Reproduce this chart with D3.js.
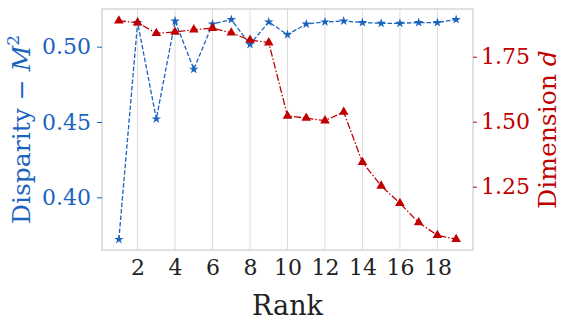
<!DOCTYPE html>
<html>
  <head>
    <meta charset="utf-8">
    <title>Disparity and dimension by rank</title>
    <script src="https://d3js.org/d3.v7.min.js"></script>
    <style>
      body { margin: 0; background: #fff; }
      .grid line { stroke: #dcdcdc; stroke-width: 1; }
    </style>
  </head>
  <body>
    <div id="chart"></div>
    <script>

      // values
      var ranks = d3.range(1, 20);
      var disparity = [0.372, 0.516, 0.452, 0.517, 0.485, 0.515, 0.518, 0.5015, 0.5164, 0.508,
                       0.515, 0.5164, 0.517, 0.516, 0.5155, 0.5155, 0.516, 0.516, 0.518];
      var dimension = [1.888, 1.881, 1.840, 1.845, 1.854, 1.860, 1.842, 1.814, 1.804, 1.522,
                       1.514, 1.504, 1.537, 1.344, 1.253, 1.186, 1.112, 1.063, 1.048];
      var xTicks = [2, 4, 6, 8, 10, 12, 14, 16, 18];
      var leftTicks = [0.40, 0.45, 0.50];
      var rightTicks = [1.25, 1.50, 1.75];

      var width = 575,
        height = 332,
        margin = {top: 9, right: 102, bottom: 82, left: 102},
        serif = "\"DejaVu Serif\"",
        blue = "#1a64bf",
        red = "#c00000";

      var svg = d3.select("#chart")
        .append("svg")
          .attr("width", width)
          .attr("height", height)
          .attr("font-family", serif);

      var x = d3.scaleLinear()
        .domain([0.1, 19.9])
        .range([margin.left, width - margin.right]);

      var yLeft = d3.scaleLinear()
        .domain([0.365, 0.525])
        .range([height - margin.bottom, margin.top]);

      var yRight = d3.scaleLinear()
        .domain([1.0065, 1.9335])
        .range([height - margin.bottom, margin.top]);

      // vertical grid
      svg.append("g")
        .attr("class", "grid")
        .selectAll("line")
        .data(xTicks)
        .enter().append("line")
          .attr("x1", (d) => x(d))
          .attr("x2", (d) => x(d))
          .attr("y1", margin.top)
          .attr("y2", height - margin.bottom);

      // frame
      svg.append("rect")
        .attr("x", margin.left)
        .attr("y", margin.top)
        .attr("width", width - margin.left - margin.right)
        .attr("height", height - margin.top - margin.bottom)
        .style("fill", "none")
        .style("stroke", "#d0d0d0")
        .style("stroke-width", 1.3);

      var xAxis = svg.append("g")
        .attr("transform", "translate(0," + (height - margin.bottom) + ")")
        .call(d3.axisBottom(x).tickValues(xTicks).tickSize(0).tickPadding(9));
      xAxis.attr("font-family", serif).attr("font-size", 22);
      xAxis.select(".domain").remove();
      xAxis.selectAll("text").attr("fill", "#222");

      var leftAxis = svg.append("g")
        .attr("transform", "translate(" + margin.left + ",0)")
        .call(d3.axisLeft(yLeft).tickValues(leftTicks).tickFormat(d3.format(".2f")).tickSize(5).tickPadding(6));
      leftAxis.attr("font-family", serif).attr("font-size", 22);
      leftAxis.select(".domain").remove();
      leftAxis.selectAll("line").attr("stroke", blue);
      leftAxis.selectAll("text").attr("fill", blue);

      var rightAxis = svg.append("g")
        .attr("transform", "translate(" + (width - margin.right) + ",0)")
        .call(d3.axisRight(yRight).tickValues(rightTicks).tickFormat(d3.format(".2f")).tickSize(4).tickPadding(4));
      rightAxis.attr("font-family", serif).attr("font-size", 22);
      rightAxis.select(".domain").remove();
      rightAxis.selectAll("line").attr("stroke", red);
      rightAxis.selectAll("text").attr("fill", red);

      // axis titles
      svg.append("text")
        .attr("x", (margin.left + width - margin.right) / 2)
        .attr("y", 315)
        .attr("text-anchor", "middle")
        .attr("font-size", 27)
        .attr("fill", "#222")
        .text("Rank");

      var leftTitle = svg.append("text")
        .attr("transform", "translate(30," + ((margin.top + height - margin.bottom) / 2) + ") rotate(-90)")
        .attr("text-anchor", "middle")
        .attr("font-size", 25)
        .attr("fill", blue);
      leftTitle.append("tspan").text("Disparity \u2212 ");
      leftTitle.append("tspan").attr("font-style", "italic").text("M");
      leftTitle.append("tspan").attr("dy", -11).attr("font-size", 17).text("2");

      var rightTitle = svg.append("text")
        .attr("transform", "translate(556," + ((margin.top + height - margin.bottom) / 2) + ") rotate(-90)")
        .attr("text-anchor", "middle")
        .attr("font-size", 25)
        .attr("fill", red);
      rightTitle.append("tspan").text("Dimension ");
      rightTitle.append("tspan").attr("font-style", "italic").text("d");

      // disparity series
      var blueLine = d3.line()
        .x((d, i) => x(ranks[i]))
        .y((d) => yLeft(d));

      svg.append("path")
        .datum(disparity)
        .attr("d", blueLine)
        .style("fill", "none")
        .style("stroke", blue)
        .style("stroke-width", 1.3)
        .style("stroke-dasharray", "4.5,2");

      svg.append("g")
        .selectAll("path")
        .data(disparity)
        .enter().append("path")
          .attr("d", d3.symbol().type(d3.symbolStar).size(28))
          .attr("transform", (d, i) => "translate(" + x(ranks[i]) + "," + yLeft(d) + ")")
          .style("fill", blue);

      // dimension series
      var redLine = d3.line()
        .x((d, i) => x(ranks[i]))
        .y((d) => yRight(d));

      svg.append("path")
        .datum(dimension)
        .attr("d", redLine)
        .style("fill", "none")
        .style("stroke", red)
        .style("stroke-width", 1.3)
        .style("stroke-dasharray", "7,2,1.5,2");

      svg.append("g")
        .selectAll("path")
        .data(dimension)
        .enter().append("path")
          .attr("d", d3.symbol().type(d3.symbolTriangle).size(40))
          .attr("transform", (d, i) => "translate(" + x(ranks[i]) + "," + yRight(d) + ")")
          .style("fill", red);

    </script>
  </body>
</html>
